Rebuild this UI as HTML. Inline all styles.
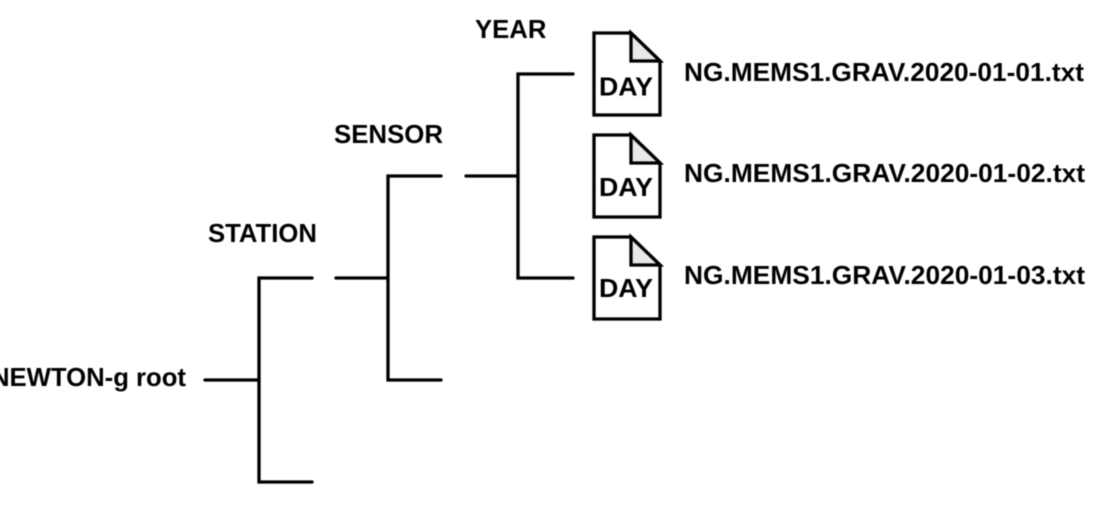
<!DOCTYPE html>
<html>
<head>
<meta charset="utf-8">
<style>
html,body{margin:0;padding:0;background:#fff;}
svg{display:block;}
text{font-family:"Liberation Sans",sans-serif;font-weight:bold;font-size:25.7px;fill:#000;}
</style>
</head>
<body>
<svg width="1096" height="523" viewBox="0 0 1096 523" xmlns="http://www.w3.org/2000/svg">
<g style="filter:blur(0.5px)">
  <g fill="none" stroke="#000" stroke-width="3.3" stroke-linecap="round" stroke-linejoin="miter">
    <path d="M205 380H259M312 278H259V482H312"/>
    <path d="M336 278H388M441 176H388V380H441"/>
    <path d="M466 176H518M573 74H518V278H573"/>
  </g>
  <g stroke="#000" stroke-width="3.3" stroke-linejoin="miter">
    <path d="M594 33H631L660 61V115H594Z" fill="#fff"/>
    <path d="M631 33V61H660Z" fill="#e8e8e8"/>
    <path d="M594 135H631L660 163V217H594Z" fill="#fff"/>
    <path d="M631 135V163H660Z" fill="#e8e8e8"/>
    <path d="M594 237H631L660 265V319H594Z" fill="#fff"/>
    <path d="M631 237V265H660Z" fill="#e8e8e8"/>
  </g>
  <text x="599" y="95.5" textLength="54" lengthAdjust="spacingAndGlyphs">DAY</text>
  <text x="599" y="196" textLength="54" lengthAdjust="spacingAndGlyphs">DAY</text>
  <text x="599" y="297" textLength="54" lengthAdjust="spacingAndGlyphs">DAY</text>
  <text x="475" y="38">YEAR</text>
  <text x="334" y="143" textLength="109" lengthAdjust="spacingAndGlyphs">SENSOR</text>
  <text x="208" y="242">STATION</text>
  <text x="186" y="386" text-anchor="end">NEWTON-g root</text>
  <text x="684" y="81" textLength="400" lengthAdjust="spacingAndGlyphs">NG.MEMS1.GRAV.2020-01-01.txt</text>
  <text x="684" y="182" textLength="401" lengthAdjust="spacingAndGlyphs">NG.MEMS1.GRAV.2020-01-02.txt</text>
  <text x="684" y="284" textLength="401" lengthAdjust="spacingAndGlyphs">NG.MEMS1.GRAV.2020-01-03.txt</text>
</g>
</svg>
</body>
</html>
